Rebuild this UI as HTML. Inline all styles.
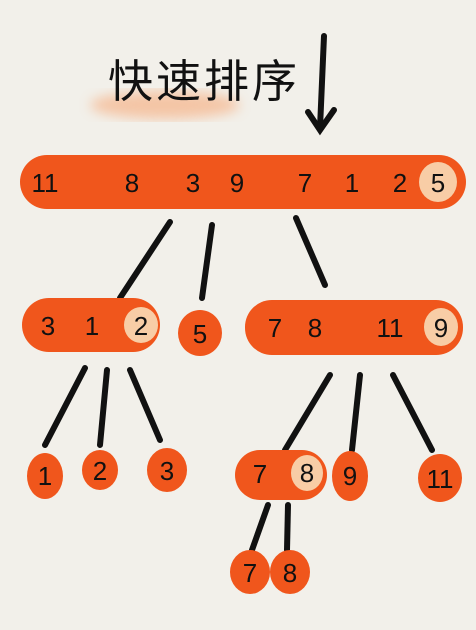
<!DOCTYPE html>
<html><head><meta charset="utf-8"><style>
html,body{margin:0;padding:0;background:#f2f0ea;}
svg{display:block}
text{font-family:"Liberation Sans","Noto Sans CJK SC",sans-serif;fill:#111;}
</style></head><body>
<svg width="476" height="630" viewBox="0 0 476 630">
<defs><filter id="blur"><feGaussianBlur stdDeviation="6"/></filter></defs>
<rect width="476" height="630" fill="#f2f0ea"/>
<g>
<ellipse cx="165" cy="105" rx="75" ry="14" fill="#f5b78f" opacity="0.75" filter="url(#blur)"/>
<text x="108" y="97" font-size="45" letter-spacing="3" fill="#111">快速排序</text>
</g>
<g stroke="#111" stroke-width="6" stroke-linecap="round" fill="none">
<path d="M324 36 L320 128"/><path d="M308 112 L320 130 L334 110"/>
</g>
<g stroke="#111" stroke-width="6" stroke-linecap="round">
<line x1="170" y1="222" x2="120" y2="298"/>
<line x1="212" y1="225" x2="202" y2="298"/>
<line x1="296" y1="218" x2="325" y2="285"/>
<line x1="85" y1="368" x2="45" y2="445"/>
<line x1="107" y1="370" x2="100" y2="445"/>
<line x1="130" y1="370" x2="160" y2="440"/>
<line x1="330" y1="375" x2="285" y2="450"/>
<line x1="360" y1="375" x2="352" y2="450"/>
<line x1="393" y1="375" x2="432" y2="450"/>
<line x1="268" y1="505" x2="252" y2="550"/>
<line x1="288" y1="505" x2="287" y2="550"/>
</g>
<g fill="#f0561c">
<rect x="20" y="155" width="446" height="54" rx="27"/>
<rect x="22" y="298" width="138" height="54" rx="27"/>
<ellipse cx="200" cy="333" rx="22" ry="23"/>
<rect x="245" y="300" width="218" height="55" rx="27"/>
<ellipse cx="45" cy="476" rx="18" ry="23"/>
<ellipse cx="100" cy="470" rx="18" ry="20"/>
<ellipse cx="167" cy="470" rx="20" ry="22"/>
<rect x="235" y="450" width="92" height="50" rx="25"/>
<ellipse cx="350" cy="476" rx="18" ry="25"/>
<ellipse cx="440" cy="478" rx="22" ry="24"/>
<ellipse cx="250" cy="572" rx="20" ry="22"/>
<ellipse cx="290" cy="572" rx="20" ry="22"/>
</g>
<g fill="#f8cda6">
<ellipse cx="438" cy="182" rx="19" ry="20"/>
<ellipse cx="141" cy="325" rx="17" ry="18"/>
<ellipse cx="441" cy="327" rx="17" ry="19"/>
<ellipse cx="307" cy="473" rx="16" ry="18"/>
</g>
<g font-size="26" text-anchor="middle">
<text x="45" y="192">11</text><text x="132" y="192">8</text><text x="193" y="192">3</text><text x="237" y="192">9</text>
<text x="305" y="192">7</text><text x="352" y="192">1</text><text x="400" y="192">2</text><text x="438" y="192">5</text>
<text x="48" y="335">3</text><text x="92" y="335">1</text><text x="141" y="335">2</text>
<text x="200" y="343">5</text>
<text x="275" y="337">7</text><text x="315" y="337">8</text><text x="390" y="337">11</text><text x="441" y="337">9</text>
<text x="45" y="485">1</text><text x="100" y="480">2</text><text x="167" y="480">3</text>
<text x="260" y="483">7</text><text x="307" y="482">8</text>
<text x="350" y="485">9</text><text x="440" y="488">11</text>
<text x="250" y="582">7</text><text x="290" y="582">8</text>
</g>
</svg>
</body></html>
